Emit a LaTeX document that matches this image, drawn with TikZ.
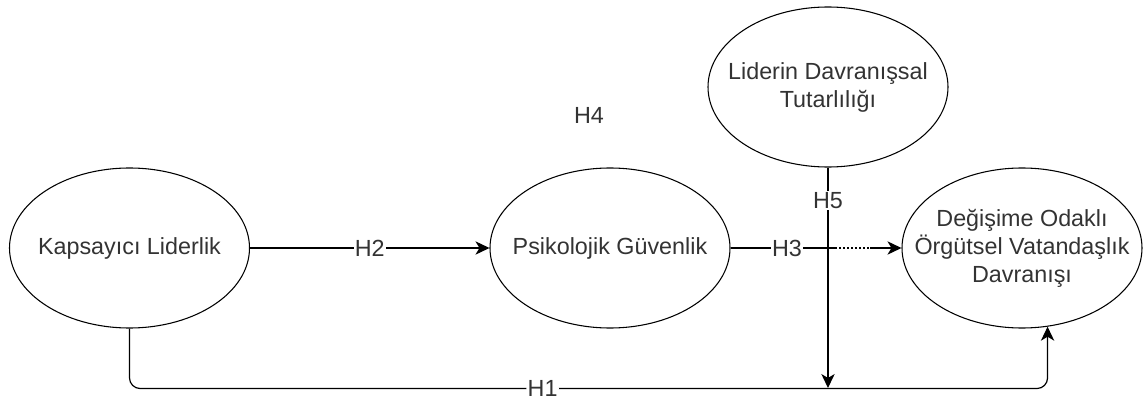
\documentclass[tikz,border=0pt]{standalone}
\usepackage{fontspec}
\setmainfont{Liberation Sans}
\usepackage{tikz}
\usetikzlibrary{shapes, arrows.meta, positioning}
\definecolor{txtgray}{HTML}{333333}

\begin{document}
\begin{tikzpicture}[
                x=0.75pt, y=-0.75pt,
                ell/.style={ellipse, draw=black, line width=0.8pt, minimum width=180pt, minimum height=120pt, inner sep=0pt},
                txt/.style={text=txtgray, font=\fontsize{17.5}{21}\selectfont, align=center},
                lbl/.style={fill=white, text=txtgray, font=\fontsize{17.5}{21}\selectfont, inner sep=1pt},
                arrow/.style={-{Stealth[length=10.5pt, width=10pt, inset=3pt]}, line width=0.9pt}
            ]
                \useasboundingbox (0,0) rectangle (1143,403);

                \node[ell, label={[txt]center:Kapsayıcı Liderlik}] (kap) at (129.5,248) {};
                \node[ell, label={[txt]center:Psikolojik Güvenlik}] (psk) at (610,248) {};
                \node[ell, label={[txt]center:Değişime Odaklı\\Örgütsel Vatandaşlık\\Davranışı}] (dov) at (1022,248) {};
                \node[ell, label={[txt]center:Liderin Davranışsal\\Tutarlılığı}] (ldt) at (828,87) {};
                \node[txt] (h4) at (589,115) {H4};

                \coordinate (h5end) at (ldt.south |- 0,388);

                \draw[arrow] (kap) -- node[lbl] {H2} (psk);
                \draw[arrow] (psk) -- node[lbl, pos=0.33] {H3} (dov);
                % dotted stretch right of the crossing
                \coordinate (gapa) at (837,248);
                \coordinate (gapb) at (870,248);
                \draw[white, line width=1pt, dash pattern=on 1.5pt off 1.5pt] (gapa) -- (gapb);

                \draw[arrow, rounded corners=8pt] (kap.south) -- ++(0,60) -| node[lbl, pos=0.225] {H1} (dov.288);
                \draw[arrow] (ldt.south) -- node[lbl, pos=0.15] {H5} (h5end);
            \end{tikzpicture}
\end{document}
